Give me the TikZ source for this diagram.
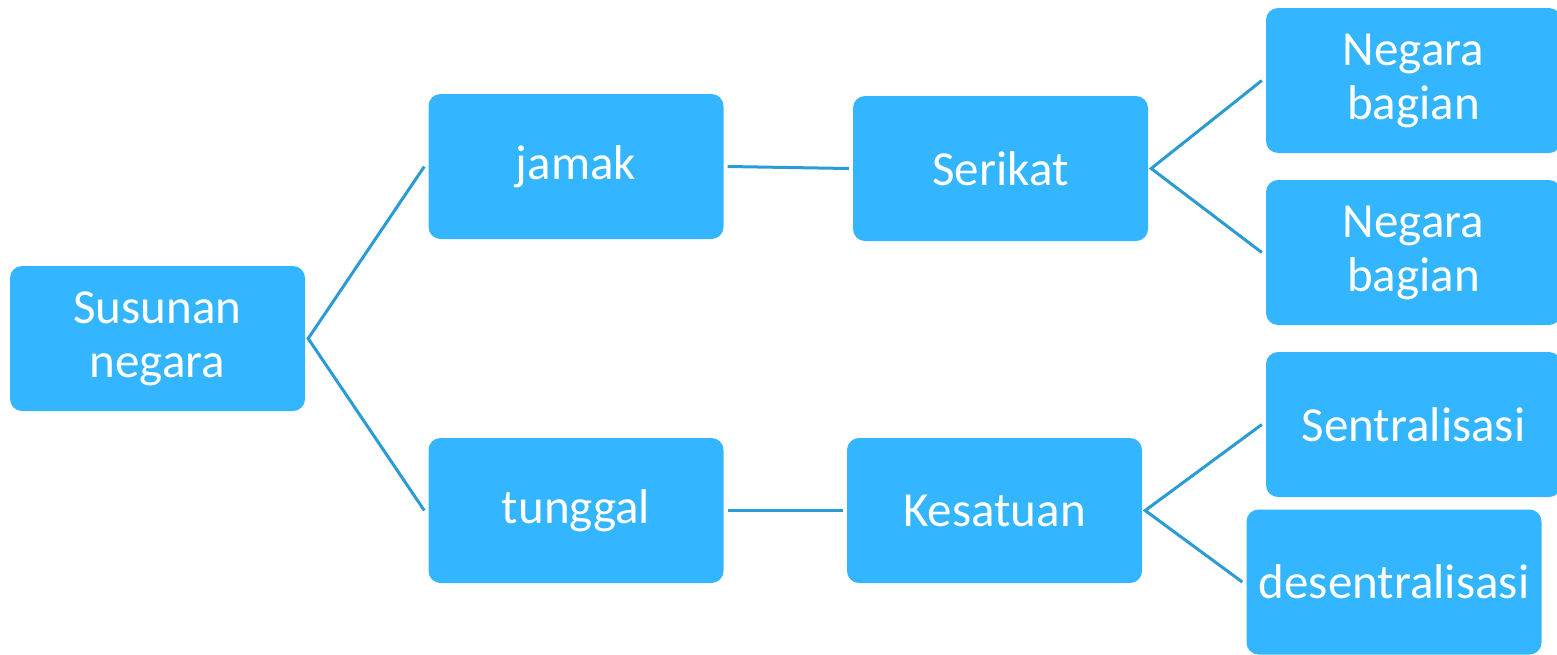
\documentclass[tikz,border=0pt]{standalone}
\usepackage{fontspec}
\setmainfont{Carlito}
\definecolor{boxblue}{HTML}{33B5FF}
\definecolor{lineblue}{HTML}{2B9BD6}
\tikzset{box/.style={rectangle, rounded corners=12pt, fill=boxblue, text=white, minimum width=295pt, minimum height=145pt, inner sep=0pt, align=center, font=\fontsize{49}{54}\selectfont},
  link/.style={lineblue, line width=3pt}}

\begin{document}
\begin{tikzpicture}[x=1pt,y=-1pt]
       \useasboundingbox (0,0) rectangle (1557,654);
       \clip (0,0) rectangle (1557,654);
        \node[box] (s)  at (157.5,338.5) {Susunan\\negara};
        \node[box] (j)  at (576,166.5)   {jamak};
        \node[box] (t)  at (576,510.5)   {tunggal};
        \node[box] (r)  at (1000.5,168.5) {Serikat};
        \node[box] (k)  at (994.5,510.5) {Kesatuan};
        \node[box] (n1) at (1413.5,80.5) {Negara\\bagian};
        \node[box] (n2) at (1413.5,252.5) {Negara\\bagian};
        \node[box] (c)  at (1413.5,424.5) {Sentralisasi};
        \node[box] (d)  at (1394,582)    {desentralisasi};
        \draw[link] ([xshift=-4pt]j.west) -- ([xshift=3pt]s.east) -- ([xshift=-4pt]t.west);
        \draw[link] ([xshift=4pt]j.east) -- ([xshift=-4pt]r.west);
        \draw[link] ([xshift=4pt]t.east) -- ([xshift=-4pt]k.west);
        \draw[link] ([xshift=-4pt]n1.west) -- ([xshift=3pt]r.east) -- ([xshift=-4pt]n2.west);
        \draw[link] ([xshift=-4pt]c.west) -- ([xshift=3pt]k.east) -- ([xshift=-4pt]d.west);
      \end{tikzpicture}
\end{document}
